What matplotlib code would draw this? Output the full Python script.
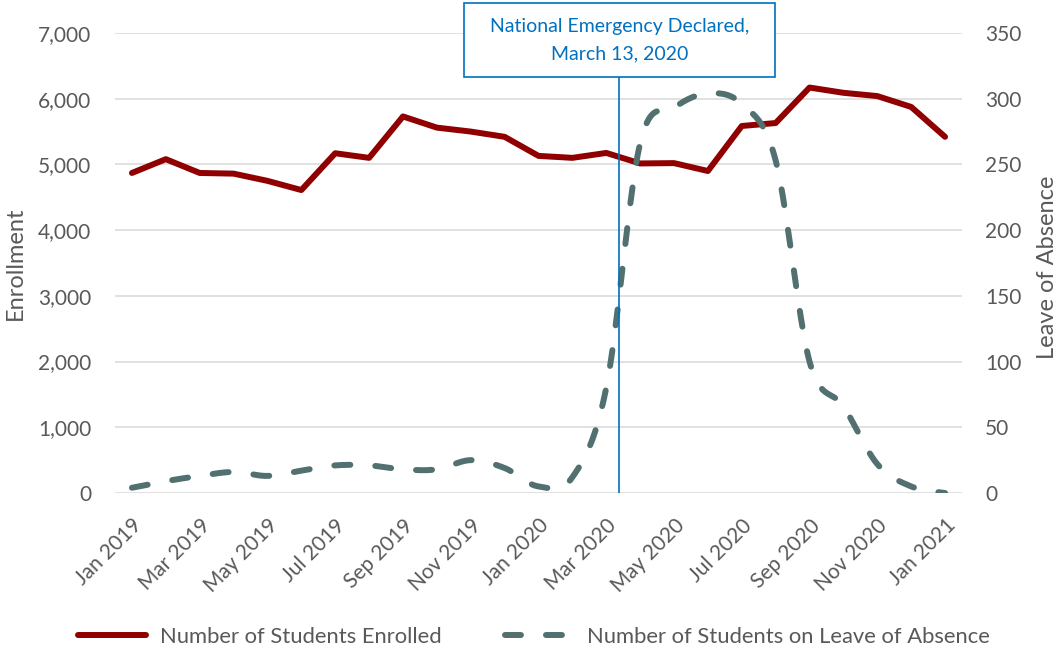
import numpy as np
import matplotlib.pyplot as plt
import matplotlib.transforms as mtransforms
from matplotlib.patches import Rectangle
from matplotlib.lines import Line2D

plt.rcParams['font.family'] = ['Lato', 'DejaVu Sans']
plt.rcParams['lines.scale_dashes'] = False

months = ['Jan 2019', 'Feb 2019', 'Mar 2019', 'Apr 2019', 'May 2019', 'Jun 2019',
          'Jul 2019', 'Aug 2019', 'Sep 2019', 'Oct 2019', 'Nov 2019', 'Dec 2019',
          'Jan 2020', 'Feb 2020', 'Mar 2020', 'Apr 2020', 'May 2020', 'Jun 2020',
          'Jul 2020', 'Aug 2020', 'Sep 2020', 'Oct 2020', 'Nov 2020', 'Dec 2020',
          'Jan 2021']
enrolled = [4870, 5080, 4870, 4860, 4750, 4610, 5170, 5100, 5730, 5560, 5500, 5420,
            5130, 5100, 5175, 5015, 5020, 4900, 5585, 5630, 6170, 6090, 6040, 5875,
            5420]
leave = [4, 9, 13, 16, 13, 17, 21, 21, 18, 18, 25, 19,
         5, 12, 80, 266, 293, 304, 296, 253, 100, 66, 22, 5,
         0]
tick_labels = months[::2]
emergency_pos = 14 + 12 / 31  # March 13, 2020
emergency_text = 'National Emergency Declared,\nMarch 13, 2020'

red = '#900000'
teal = '#527070'
blue = '#0070C0'
grey_text = '#595959'


def excel_smooth(y, steps=25):
    # bezier smoothing like excel's "smoothed line"
    y = np.asarray(y, dtype=float)
    x = np.arange(len(y), dtype=float)
    pts = np.column_stack([x, y])
    ext = np.vstack([pts[0], pts, pts[-1]])
    out = []
    t = np.linspace(0, 1, steps)[:, None]
    for i in range(len(pts) - 1):
        p0 = pts[i]
        p3 = pts[i + 1]
        p1 = p0 + (ext[i + 2] - ext[i]) / 6
        p2 = p3 - (ext[i + 3] - ext[i + 1]) / 6
        seg = ((1 - t) ** 3) * p0 + 3 * ((1 - t) ** 2) * t * p1 + 3 * (1 - t) * t ** 2 * p2 + t ** 3 * p3
        out.append(seg if i == 0 else seg[1:])
    out = np.vstack(out)
    return out[:, 0], out[:, 1]


fig = plt.figure(figsize=(10.57, 6.5), dpi=100)
ax = fig.add_axes([115 / 1057, 1 - 493 / 650, 847 / 1057, 460 / 650])
ax2 = ax.twinx()

ax.plot(range(len(enrolled)), enrolled, color=red, lw=4.3, solid_capstyle='round',
        solid_joinstyle='round', zorder=3)
sx, sy = excel_smooth(leave)
ax2.plot(sx, sy, color=teal, lw=4.3, dashes=(11.5, 18), dash_capstyle='round', zorder=3)

ax.set_xlim(-0.5, len(months) - 0.5)
ax.set_ylim(0, 7000)
ax2.set_ylim(0, 350)
ax.set_yticks(range(0, 7001, 1000))
ax.set_yticklabels([f'{v:,}' for v in range(0, 7001, 1000)])
ax2.set_yticks(range(0, 351, 50))
ax.yaxis.grid(True, color='#D9D9D9', lw=1.1)
ax.set_axisbelow(True)

for a in (ax, ax2):
    for s in a.spines.values():
        s.set_visible(False)

ax.tick_params(axis='y', length=0, labelsize=15, labelcolor=grey_text, pad=17)
ax2.tick_params(axis='y', length=0, labelsize=15, labelcolor=grey_text, pad=16.5)
ax.set_xticks(range(0, len(months), 2))
ax.set_xticklabels(tick_labels, rotation=45, ha='right', va='top', rotation_mode='anchor')
ax.tick_params(axis='x', length=0, labelsize=15, labelcolor=grey_text, pad=16)

ax.set_ylabel('Enrollment', fontsize=17, color=grey_text, va='center')
ax.yaxis.set_label_coords(-100 / 847, 0.5)
ax2.set_ylabel('Leave of Absence', fontsize=17, color=grey_text, va='center')
ax2.yaxis.set_label_coords(1 + 85 / 847, 0.49)

# national emergency marker
box_bottom = (493 - 77) / 460
box_top = (493 - 3) / 460
box_w = 311 / 847 * len(months)
ax2.axvline(emergency_pos, ymin=0, ymax=box_bottom, color=blue, lw=1.2, zorder=4)
trans = mtransforms.blended_transform_factory(ax2.transData, ax2.transAxes)
ax2.add_patch(Rectangle((emergency_pos - box_w / 2, box_bottom), box_w, box_top - box_bottom,
                        transform=trans, facecolor='white', edgecolor=blue, lw=1.2,
                        clip_on=False, zorder=5))
ax2.text(emergency_pos, (box_bottom + box_top) / 2, emergency_text, transform=trans,
         ha='center', va='center', color=blue, fontsize=14, linespacing=1.7, zorder=6)

handles = [Line2D([], [], color=red, lw=4.3, solid_capstyle='round'),
           Line2D([], [], color=teal, lw=4.3, dashes=(11.5, 18), dash_capstyle='round')]
fig.legend(handles, ['Number of Students Enrolled', 'Number of Students on Leave of Absence'],
           loc='center', bbox_to_anchor=(534 / 1057, 1 - 637 / 650), ncol=2, frameon=False,
           fontsize=15.8, labelcolor=grey_text, handlelength=3.1, handletextpad=0.63,
           columnspacing=2.9)

fig.savefig('out.png', dpi=100)
